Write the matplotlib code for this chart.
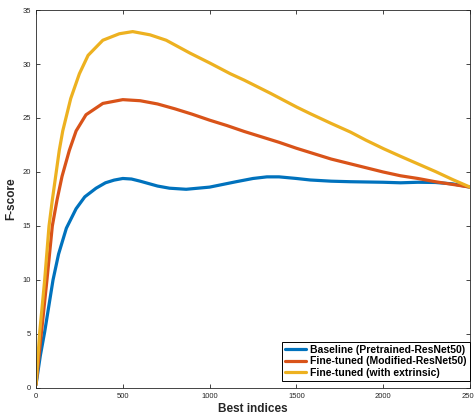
import matplotlib
matplotlib.use("Agg")
import matplotlib.pyplot as plt

plt.rcParams["font.family"] = ["Liberation Sans", "DejaVu Sans"]

# F-score vs number of best indices
x_base = [0, 25, 50, 75, 98, 130, 175, 231, 281, 346, 400, 450, 500, 550, 600,
          700, 769, 865, 1000, 1153, 1250, 1330, 1400, 1500, 1580, 1700, 1811,
          2000, 2100, 2200, 2300, 2400, 2500]
f_base = [0.3, 3.0, 5.2, 7.7, 10.0, 12.4, 14.8, 16.6, 17.7, 18.5, 19.0, 19.25, 19.4,
          19.35, 19.15, 18.7, 18.5, 18.4, 18.6, 19.1, 19.4, 19.55, 19.55, 19.4, 19.26,
          19.15, 19.1, 19.05, 19.0, 19.05, 19.03, 18.9, 18.6]

x_mod = [0, 31, 63, 94, 121, 150, 192, 231, 288, 385, 500, 600, 700, 800, 900,
         1000, 1100, 1200, 1300, 1400, 1500, 1600, 1700, 1800, 1900, 2000, 2100,
         2200, 2300, 2400, 2500]
f_mod = [0.3, 5.1, 10.0, 15.0, 17.4, 19.6, 22.0, 23.8, 25.3, 26.35, 26.7, 26.6, 26.3,
         25.85, 25.35, 24.8, 24.3, 23.75, 23.25, 22.75, 22.2, 21.7, 21.2, 20.8, 20.4,
         20.0, 19.65, 19.4, 19.1, 18.85, 18.6]

x_ext = [0, 21, 50, 75, 94, 134, 154, 200, 250, 300, 385, 480, 557, 657, 750, 888,
         1000, 1119, 1200, 1349, 1503, 1580, 1700, 1811, 1900, 2003, 2100, 2200,
         2300, 2400, 2500]
f_ext = [0.3, 5.1, 10.0, 15.0, 17.4, 22.0, 23.8, 26.8, 29.1, 30.8, 32.2, 32.8, 33.0,
         32.7, 32.2, 31.0, 30.1, 29.1, 28.5, 27.3, 26.0, 25.4, 24.5, 23.7, 22.95, 22.15,
         21.45, 20.75, 20.05, 19.3, 18.6]

labels = ["Baseline (Pretrained-ResNet50)", "Fine-tuned (Modified-ResNet50)",
          "Fine-tuned (with extrinsic)"]
colors = ["#0072BD", "#D95319", "#EDB120"]

fig = plt.figure(figsize=(4.74, 4.18), dpi=100)
ax = fig.add_axes([36 / 474, 1 - 388 / 418, 434 / 474, 378 / 418])

for xs, ys, lab, c in zip([x_base, x_mod, x_ext], [f_base, f_mod, f_ext], labels, colors):
    ax.plot(xs, ys, "-", lw=2.3, color=c, label=lab, solid_capstyle="round",
            solid_joinstyle="round")

ax.set_xlim(0, 2500)
ax.set_ylim(0, 35)
ax.set_xticks([0, 500, 1000, 1500, 2000, 2500])
ax.set_yticks([0, 5, 10, 15, 20, 25, 30, 35])
ax.tick_params(direction="in", top=True, right=True, labelsize=5.5, length=3,
               width=0.6, colors="0.15", labelcolor="0.15")
for s in ax.spines.values():
    s.set_color("0.15")
    s.set_linewidth(0.6)

ax.set_xlabel("Best indices", fontsize=8.5, fontweight="bold", color="0.15", labelpad=2)
ax.set_ylabel("F-score", fontsize=8.5, fontweight="bold", color="0.15", labelpad=4)

leg = ax.legend(loc="lower right", bbox_to_anchor=(1.0, 0.0185), borderaxespad=0,
                prop={"weight": "bold", "size": 7.5}, fancybox=False, framealpha=1,
                edgecolor="black", handlelength=2.0, handletextpad=0.4,
                labelspacing=0.15, borderpad=0.3)
leg.get_frame().set_linewidth(0.7)

fig.savefig("out.png", dpi=100)
